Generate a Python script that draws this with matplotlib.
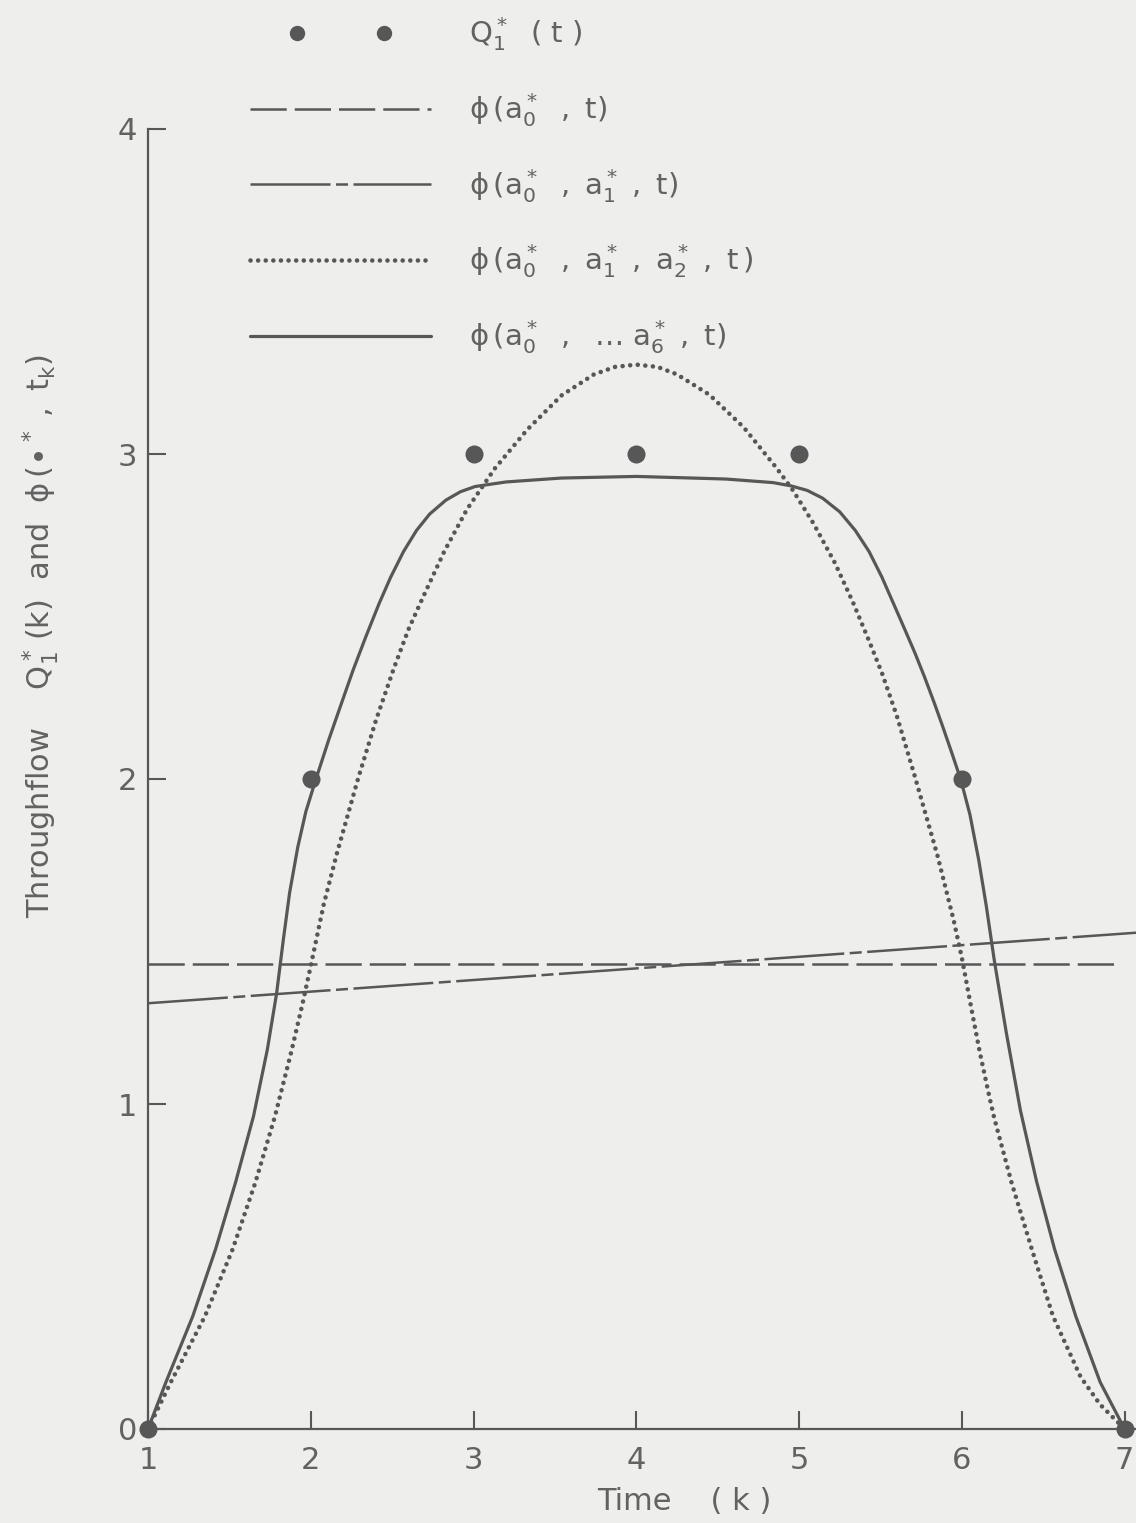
import matplotlib
matplotlib.use("Agg")
import matplotlib.pyplot as plt
from matplotlib.legend_handler import HandlerLine2D

# ---- data -------------------------------------------------------------
# observed throughflow Q1*(k) at the sample times
k_obs = [1, 2, 3, 4, 5, 6, 7]
q_obs = [0, 2, 3, 3, 3, 2, 0]

# zero-order fit phi(a0*, t): constant level
const_t = [1.0, 6.97]
const_v = [1.43, 1.43]

# first-order fit phi(a0*, a1*, t): straight line
lin_t = [1.0, 7.07]
lin_v = [1.31, 1.527]

# second-order fit phi(a0*, a1*, a2*, t)
quad_t = [1.00, 1.14, 1.35, 1.52, 1.66, 1.78, 1.88, 1.95, 2.00, 2.08,
          2.16, 2.29, 2.40, 2.51, 2.60, 2.69, 2.82, 2.96, 3.13, 3.33,
          3.54, 3.74, 3.87, 4.00, 4.13, 4.25, 4.45, 4.66, 4.86, 4.96,
          5.09, 5.22, 5.33, 5.43, 5.51, 5.60, 5.71, 5.85, 5.95, 6.00,
          6.06, 6.11, 6.17, 6.20, 6.305, 6.43, 6.56, 6.73, 6.85, 6.97, 7.00]
quad_v = [0.000, 0.144, 0.347, 0.553, 0.759, 0.962, 1.160, 1.310, 1.425, 1.615,
          1.770, 2.000, 2.180, 2.340, 2.460, 2.560, 2.700, 2.830, 2.955, 3.075,
          3.180, 3.245, 3.268, 3.275, 3.268, 3.245, 3.182, 3.082, 2.958, 2.890,
          2.785, 2.665, 2.545, 2.425, 2.325, 2.195, 2.010, 1.765, 1.565, 1.450,
          1.290, 1.160, 1.020, 0.955, 0.759, 0.553, 0.347, 0.160, 0.075, 0.015,
          0.000]

# sixth-order fit phi(a0*, ... a6*, t)
six_t = [1.000, 1.110, 1.275, 1.415, 1.538, 1.648, 1.733, 1.790, 1.830, 1.870,
         1.920, 1.970, 2.032, 2.110, 2.190, 2.260, 2.340, 2.420, 2.490, 2.570,
         2.650, 2.730, 2.830, 2.920, 3.010, 3.200, 3.540, 4.000, 4.550, 4.840,
         4.950, 5.050, 5.145, 5.250, 5.345, 5.430, 5.509, 5.580, 5.648, 5.710,
         5.770, 5.830, 5.880, 5.940, 5.994, 6.050, 6.104, 6.150, 6.200, 6.273,
         6.360, 6.460, 6.570, 6.700, 6.850, 7.000]
six_v = [0.000, 0.144, 0.347, 0.553, 0.759, 0.962, 1.167, 1.340, 1.500, 1.650,
         1.790, 1.900, 2.000, 2.120, 2.235, 2.335, 2.440, 2.540, 2.620, 2.700,
         2.765, 2.815, 2.858, 2.884, 2.900, 2.914, 2.926, 2.931, 2.923, 2.912,
         2.902, 2.888, 2.864, 2.822, 2.765, 2.700, 2.621, 2.540, 2.462, 2.390,
         2.315, 2.235, 2.165, 2.078, 1.997, 1.890, 1.750, 1.610, 1.440, 1.220,
         0.980, 0.760, 0.553, 0.347, 0.144, 0.000]

x_ticks = [1, 2, 3, 4, 5, 6, 7]
y_ticks = [0, 1, 2, 3, 4]

legend_labels = [
    r'$Q_1^*\ \ (\ t\ )$',
    r'$\phi\,(a_0^*\ \ ,\ t)$',
    r'$\phi\,(a_0^*\ \ ,\ a_1^*\ ,\ t)$',
    r'$\phi\,(a_0^*\ \ ,\ a_1^*\ ,\ a_2^*\ ,\ t\,)$',
    r'$\phi\,(a_0^*\ \ ,\ \ \ldots\ a_6^*\ ,\ t)$',
]

# ---- style ------------------------------------------------------------
plt.rcParams['font.family'] = ['DejaVu Sans']
plt.rcParams['mathtext.fontset'] = 'dejavusans'
plt.rcParams['mathtext.default'] = 'regular'

bg = '#eeeeec'
ink = '#575757'
txt = '#626262'

fig = plt.figure(figsize=(11.36, 15.23), dpi=100, facecolor=bg)
ax = fig.add_axes([148 / 1136, 1 - 1429 / 1523, (1136 - 148) / 1136, (1429 - 129) / 1523])
ax.set_facecolor(bg)

h_const, = ax.plot(const_t, const_v, color=ink, lw=1.8,
                   linestyle=(0, (14.5, 3.2)), solid_capstyle='butt')
h_lin, = ax.plot(lin_t, lin_v, color=ink, lw=1.8,
                 linestyle=(0, (32, 2.2, 4.8, 2.2)))
h_quad, = ax.plot(quad_t, quad_v, color=ink, lw=3.3,
                  linestyle=(0, (0.01, 1.65)), dash_capstyle='round')
h_six, = ax.plot(six_t, six_v, color=ink, lw=2.3, solid_capstyle='round',
                 solid_joinstyle='round')
h_obs, = ax.plot(k_obs, q_obs, linestyle='none', marker='o', markersize=13,
                 color=ink, markeredgewidth=0, clip_on=False, zorder=5)

ax.set_xlim(1, 7.07)
ax.set_ylim(0, 4)
ax.set_xticks(x_ticks)
ax.set_yticks(y_ticks)

for side in ('top', 'right'):
    ax.spines[side].set_visible(False)
for side in ('left', 'bottom'):
    ax.spines[side].set_color(ink)
    ax.spines[side].set_linewidth(1.6)

ax.tick_params(axis='both', direction='in', length=13, width=1.5, color=ink,
               labelcolor=txt, labelsize=22)
ax.tick_params(axis='x', pad=12)
ax.tick_params(axis='y', pad=8)

ax.set_xlabel('Time    ( k )', fontsize=22, color=txt)
ax.xaxis.set_label_coords(0.543, -0.045)
ax.set_ylabel(r'Throughflow    $Q_1^*\,(k)$  and  $\phi\,(\bullet^*\ ,\ t_k)$',
              fontsize=22, color=txt)
ax.yaxis.set_label_coords(-0.088, 0.61)

leg_handles = [h_obs, h_const, h_lin, h_quad, h_six]
leg = fig.legend(leg_handles, legend_labels,
                 loc='upper left', bbox_to_anchor=(250 / 1136, 1 - 15 / 1523),
                 frameon=False, fontsize=21, handlelength=6.2,
                 handletextpad=1.3, labelspacing=1.3, borderpad=0,
                 borderaxespad=0,
                 handler_map={h_obs: HandlerLine2D(numpoints=2, marker_pad=1.6)},
                 markerscale=0.85)
for t in leg.get_texts():
    t.set_color(txt)

fig.savefig('out.png', dpi=100, facecolor=bg)
